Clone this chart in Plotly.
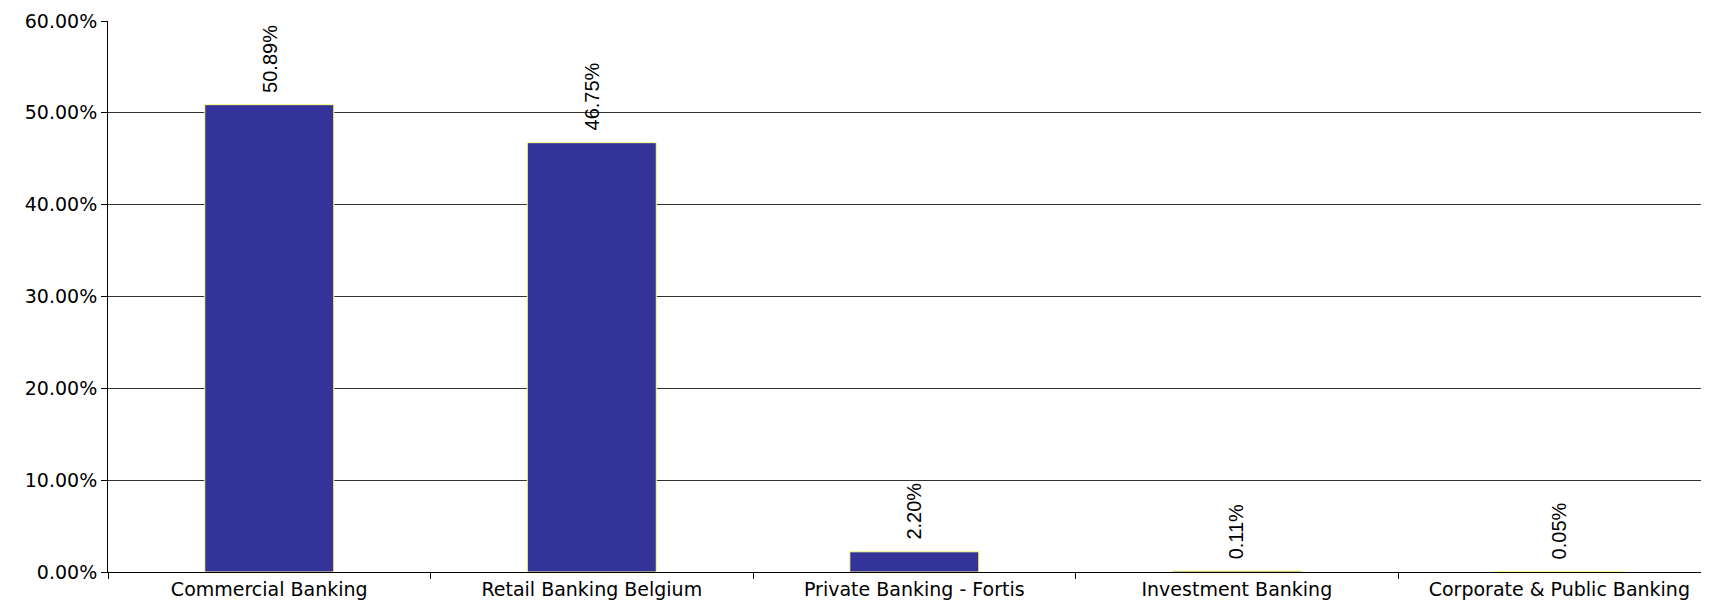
import plotly.graph_objects as go

categories = ["Commercial Banking", "Retail Banking Belgium", "Private Banking - Fortis",
              "Investment Banking", "Corporate & Public Banking"]
values = [0.5089, 0.4675, 0.0220, 0.0011, 0.0005]
value_labels = ["50.89%", "46.75%", "2.20%", "0.11%", "0.05%"]

fig = go.Figure()
fig.add_trace(go.Bar(
    x=categories, y=values, width=0.4,
    marker=dict(color="#333399", line=dict(color="#FFFF80", width=1)),
    hoverinfo="skip",
))

for c, v, t in zip(categories, values, value_labels):
    fig.add_annotation(x=c, y=v, text=t, textangle=-90, showarrow=False,
                       xanchor="center", yanchor="bottom", yshift=10,
                       font=dict(family="Liberation Sans, Arial", size=20, color="black"))

fig.update_layout(
    width=1701, height=604,
    margin=dict(l=100, r=0, t=13, b=40, pad=0),
    paper_bgcolor="white", plot_bgcolor="white",
    showlegend=False,
    font=dict(family="DejaVu Sans, Verdana", size=19, color="black"),
)
fig.update_xaxes(
    type="category", range=[-0.5, 4.464],
    showline=True, linecolor="black", linewidth=1,
    ticks="outside", tickson="boundaries", ticklen=6, tickcolor="black",
    showgrid=False, tickfont=dict(size=19),
)
fig.update_yaxes(
    range=[0, 0.6], dtick=0.1, tickformat=".2%",
    showline=True, linecolor="black", linewidth=1,
    ticks="outside", ticklen=6, tickcolor="black",
    showgrid=True, gridcolor="#333333", gridwidth=1,
    zeroline=False, tickfont=dict(size=19),
)

fig.write_html("out.html")
